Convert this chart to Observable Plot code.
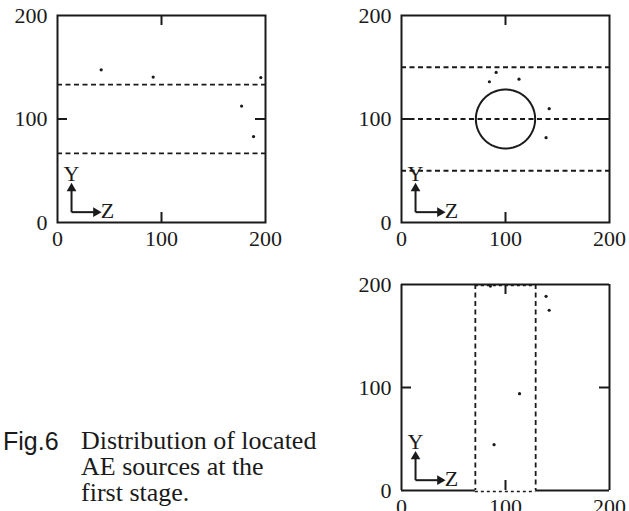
<!DOCTYPE html>
<html><head><meta charset="utf-8">
<script src="https://cdn.jsdelivr.net/npm/d3@7"></script>
<script src="https://cdn.jsdelivr.net/npm/@observablehq/plot@0.6"></script>
<style>
html,body{margin:0;padding:0;background:#fff;}
#page{position:relative;width:629px;height:511px;overflow:hidden;background:#fff;}
.cap{position:absolute;white-space:nowrap;color:#1a1a1a;}
</style></head><body><div id="page"></div>
<script>
// ---- shared axis data ----
const tickValues = [0, 100, 200];
const midTick = [100];
const domainZ = [0, 200];
const domainY = [0, 200];

// ---- panel 1 (top-left) : located AE sources ----
const p1Z = [42, 92, 195.5, 177, 188.5];
const p1Y = [147.5, 140.5, 140, 112.5, 83];
const p1DashY = [66.7, 133.3];

// ---- panel 2 (top-right) ----
const p2Z = [84.5, 91, 113, 142, 139];
const p2Y = [136, 145, 138.5, 110, 82];
const p2DashY = [50, 100, 150];
const holeCenter = [100, 100];
const holeRadius = 28.5;

// ---- panel 3 (bottom-right) ----
const p3Z = [85.5, 139, 142, 113.5, 89];
const p3Y = [198.5, 188.5, 175, 94, 44.5];
const p3DashZ = [71, 129];

// ---- Y/Z direction glyph (data units) ----
const glyphOrigin = [13.5, 10];
const glyphUpTo = 36;
const glyphRightTo = 40;
const glyphYLabel = [13.5, 47];
const glyphZLabel = [41.5, 11];

// ---- caption ----
const figLabel = "Fig.6";
const capLines = ["Distribution of located", "AE sources at the", "first stage."];

const INK = "#1a1a1a";
const DASH = "5,3.5";
const SERIF = '"Liberation Serif","Times New Roman",Times,serif';

function pts(Z, Y) { return Z.map((z, i) => ({z, y: Y[i]})); }

function glyphMarks() {
  const [ox, oy] = glyphOrigin;
  return [
    Plot.link([0], {x1: ox, y1: oy, x2: ox, y2: glyphUpTo - 3, stroke: INK, strokeWidth: 2}),
    Plot.link([0], {x1: ox, y1: oy, x2: glyphRightTo - 3, y2: oy, stroke: INK, strokeWidth: 2}),
    Plot.dot([0], {x: ox, y: glyphUpTo - 3, symbol: "triangle", r: 3.6, fill: INK, stroke: "none"}),
    Plot.dot([0], {x: glyphRightTo - 3, y: oy, symbol: "triangle", r: 3.6, fill: INK, stroke: "none", rotate: 90}),
    Plot.text(["Y"], {x: glyphYLabel[0], y: glyphYLabel[1], text: d => d, fill: INK, fontSize: 22}),
    Plot.text(["Z"], {x: glyphZLabel[0], y: glyphZLabel[1], text: d => d, textAnchor: "start", fill: INK, fontSize: 22})
  ];
}

function panel({left, top, width, height, ml, mr, mt, mb, marks, frame = true}) {
  const fw = width - ml - mr, fh = height - mt - mb;
  const svg = Plot.plot({
    width, height, marginLeft: ml, marginRight: mr, marginTop: mt, marginBottom: mb,
    x: {domain: domainZ, axis: null},
    y: {domain: domainY, axis: null},
    style: {fontFamily: SERIF, fontSize: "22px", background: "transparent", overflow: "visible", color: INK},
    marks: [
      ...marks,
      ...(frame ? [Plot.frame({stroke: INK, strokeWidth: 2})] : []),
      // inward mid ticks on all four sides
      Plot.tickX(midTick, {x: d => d, insetTop: fh - 10, stroke: INK, strokeWidth: 2}),
      Plot.tickX(midTick, {x: d => d, insetBottom: fh - 10, stroke: INK, strokeWidth: 2}),
      Plot.tickY(midTick, {y: d => d, insetRight: fw - 10, stroke: INK, strokeWidth: 2}),
      Plot.tickY(midTick, {y: d => d, insetLeft: fw - 10, stroke: INK, strokeWidth: 2}),
      // tick labels
      Plot.text(tickValues, {x: d => d, frameAnchor: "bottom", lineAnchor: "top", dy: 8, text: d => String(d), fill: INK, fontSize: 22}),
      Plot.text(tickValues, {y: d => d, frameAnchor: "left", textAnchor: "end", dx: -10, text: d => String(d), fill: INK, fontSize: 22}),
      ...glyphMarks()
    ]
  });
  svg.style.position = "absolute";
  svg.style.left = left + "px";
  svg.style.top = top + "px";
  document.getElementById("page").appendChild(svg);
}

// panel 1
panel({
  left: 0, top: 0, width: 300, height: 260, ml: 57, mr: 35, mt: 15, mb: 38,
  marks: [
    Plot.ruleY(p1DashY, {stroke: INK, strokeWidth: 1.8, strokeDasharray: DASH}),
    Plot.dot(pts(p1Z, p1Y), {x: "z", y: "y", r: 1.6, fill: INK, stroke: "none"})
  ]
});

// panel 2
const circ = d3.range(0, 121).map(i => {
  const t = i / 120 * 2 * Math.PI;
  return {z: holeCenter[0] + holeRadius * Math.cos(t), y: holeCenter[1] + holeRadius * Math.sin(t)};
});
panel({
  left: 330, top: 0, width: 299, height: 260, ml: 71, mr: 20, mt: 15, mb: 38,
  marks: [
    Plot.ruleY(p2DashY, {stroke: INK, strokeWidth: 1.8, strokeDasharray: DASH}),
    Plot.line(circ, {x: "z", y: "y", stroke: INK, strokeWidth: 2, curve: "linear"}),
    Plot.dot(pts(p2Z, p2Y), {x: "z", y: "y", r: 1.6, fill: INK, stroke: "none"})
  ]
});

// panel 3 (frame bottom broken where the dashed box meets it)
panel({
  left: 330, top: 269, width: 299, height: 260, ml: 71, mr: 20, mt: 15, mb: 39, frame: false,
  marks: [
    Plot.ruleX(domainZ, {x: d => d, stroke: INK, strokeWidth: 2}),
    Plot.ruleY([domainY[1]], {y: d => d, stroke: INK, strokeWidth: 2}),
    Plot.ruleY([[domainZ[0], p3DashZ[0]], [p3DashZ[1], domainZ[1]]], {y: domainY[0], x1: d => d[0], x2: d => d[1], stroke: INK, strokeWidth: 2}),
    Plot.ruleX(p3DashZ, {x: d => d, stroke: INK, strokeWidth: 1.8, strokeDasharray: DASH}),
    Plot.ruleY(domainY, {y: d => d, x1: p3DashZ[0], x2: p3DashZ[1], stroke: INK, strokeWidth: 1.6, strokeDasharray: "3,3", dy: 1}),
    Plot.dot(pts(p3Z, p3Y), {x: "z", y: "y", r: 1.6, fill: INK, stroke: "none"})
  ]
});

// caption
const page = document.getElementById("page");
const fig = document.createElement("div");
fig.className = "cap";
fig.textContent = figLabel;
Object.assign(fig.style, {left: "3px", top: "429px", lineHeight: "1", fontFamily: '"Liberation Sans",Arial,sans-serif', fontSize: "25px"});
page.appendChild(fig);
const cap = document.createElement("div");
cap.className = "cap";
Object.assign(cap.style, {left: "81px", top: "428px", lineHeight: "26px", fontFamily: SERIF, fontSize: "26px"});
capLines.forEach((t, i) => {
  if (i) cap.appendChild(document.createElement("br"));
  cap.appendChild(document.createTextNode(t));
});
page.appendChild(cap);
</script>
</body></html>
